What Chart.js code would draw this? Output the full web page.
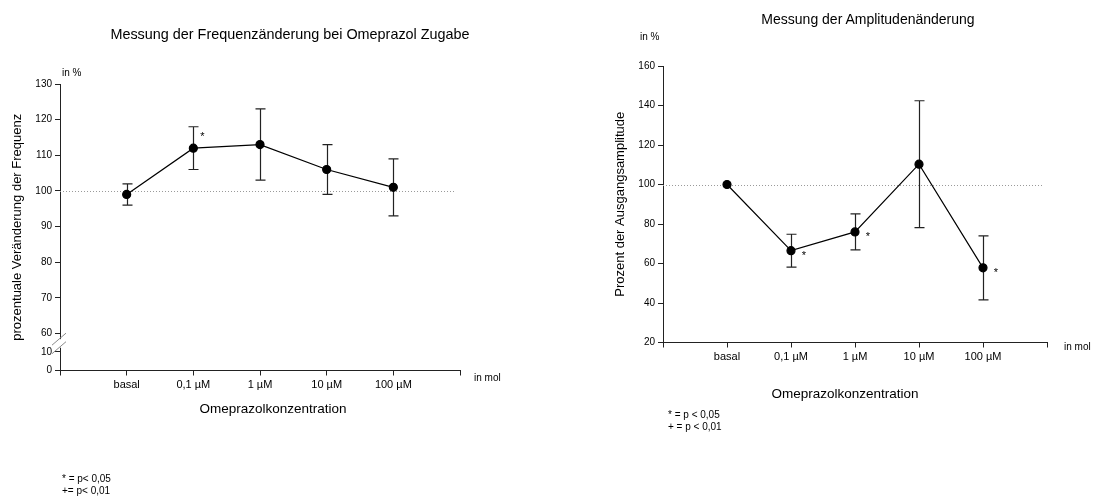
<!DOCTYPE html>
<html>
<head>
<meta charset="utf-8">
<script src="https://cdn.jsdelivr.net/npm/chart.js@4.4.1/dist/chart.umd.min.js"></script>
<style>
html,body{margin:0;padding:0;background:#fff;}
body{width:1093px;height:499px;position:relative;overflow:hidden;font-family:"Liberation Sans",Arial,sans-serif;color:#000;}
.cv{position:absolute;top:0;height:499px;}
#freqWrap{left:0;width:546px;}
#amplWrap{left:546px;width:547px;}
.t{position:absolute;white-space:nowrap;line-height:1;}
.mid{transform:translate(-50%,-50%);}
.title{font-size:14px;}
.xt{font-size:13.5px;}
.small{font-size:10px;}
.note{font-size:10px;line-height:12px;}
</style>
</head>
<body>
<div class="cv" id="freqWrap"><canvas id="freqChart"></canvas></div>
<div class="cv" id="amplWrap"><canvas id="amplChart"></canvas></div>

<div class="t mid title" style="left:290px;top:34px;font-size:14.4px">Messung der Frequenzänderung bei Omeprazol Zugabe</div>
<div class="t small" style="left:62px;top:68px">in %</div>
<div class="t small" style="left:474px;top:373px">in mol</div>
<div class="t mid xt" style="left:273px;top:409px">Omeprazolkonzentration</div>
<div class="t note" style="left:62px;top:473px">* = p&lt; 0,05<br>+= p&lt; 0,01</div>

<div class="t mid title" style="left:868px;top:19px">Messung der Amplitudenänderung</div>
<div class="t small" style="left:640px;top:32px">in %</div>
<div class="t small" style="left:1064px;top:342px">in mol</div>
<div class="t mid xt" style="left:845px;top:394px">Omeprazolkonzentration</div>
<div class="t note" style="left:668px;top:409px">* = p &lt; 0,05<br>+ = p &lt; 0,01</div>

<script>
// categories (x axis)
const categories=['basal','0,1 µM','1 µM','10 µM','100 µM'];

// Frequenz (left chart), % of baseline, mean and error
const freqMean=[99,112,113,106,101];
const freqErr=[3,6,10,7,8];
const freqSig=['','*','','',''];
const freqTicks=[0,10,60,70,80,90,100,110,120,130];

// Amplitude (right chart)
const amplMean=[100,66.5,76,110.3,57.8];
const amplErr=[0,8.3,9.1,32.1,16.2];
const amplSig=['','*','*','','*'];
const amplTicks=[20,40,60,80,100,120,140,160];

const refLine=100;

// broken y axis on the left chart: 0..10 squeezed below 60
const mapFreq=v=>v>=60?v:49.6+v*0.52;
const mapId=v=>v;

const INK='#222';
Chart.defaults.font.family='"Liberation Sans", Arial, sans-serif';
Chart.defaults.color='#000';

function makePlugins(mean,err,sig,map,starDx,starDy){
  return [{
    id:'refAndErr',
    beforeDatasetsDraw(chart){
      const {ctx,chartArea:a,scales:{x,y}}=chart;
      ctx.save();
      // dotted 100% line
      const ry=Math.round(y.getPixelForValue(map(refLine)))+0.5;
      ctx.strokeStyle='#9a9a9a';ctx.lineWidth=1;ctx.setLineDash([1,2]);
      ctx.beginPath();ctx.moveTo(a.left,ry);ctx.lineTo(a.right-5,ry);ctx.stroke();
      ctx.setLineDash([]);
      // error bars
      ctx.strokeStyle=INK;ctx.lineWidth=1.2;
      mean.forEach((m,i)=>{
        const e=err[i];if(!e)return;
        const px=Math.round(x.getPixelForValue(i+1))+0.5;
        const t=y.getPixelForValue(map(m+e)),b=y.getPixelForValue(map(m-e));
        ctx.beginPath();
        ctx.moveTo(px,t);ctx.lineTo(px,b);
        ctx.moveTo(px-5,t);ctx.lineTo(px+5,t);
        ctx.moveTo(px-5,b);ctx.lineTo(px+5,b);
        ctx.stroke();
      });
      ctx.restore();
    },
    afterDatasetsDraw(chart){
      const {ctx,scales:{x,y}}=chart;
      ctx.save();
      ctx.fillStyle='#000';ctx.font='11px "Liberation Sans", Arial, sans-serif';
      ctx.textAlign='center';ctx.textBaseline='middle';
      sig.forEach((s,i)=>{
        if(!s)return;
        ctx.fillText(s,x.getPixelForValue(i+1)+starDx,y.getPixelForValue(map(mean[i]))+starDy);
      });
      ctx.restore();
    }
  }];
}

const axisBreak={
  id:'axisBreak',
  afterDraw(chart){
    const {ctx,chartArea:a,scales:{y}}=chart;
    const y1=y.getPixelForValue(58.4),y2=y.getPixelForValue(56.0);
    const ax=a.left;
    ctx.save();
    ctx.fillStyle='#fff';
    ctx.fillRect(ax-2,y1,4,y2-y1);
    ctx.strokeStyle='#8a8a8a';ctx.lineWidth=1;
    [y1,y2].forEach(py=>{
      ctx.beginPath();ctx.moveTo(ax-8,py+6);ctx.lineTo(ax+6,py-6);ctx.stroke();
    });
    ctx.restore();
  }
};

function buildChart(id,cfg){
  const pts=cfg.mean.map((m,i)=>({x:i+1,y:cfg.map(m)}));
  return new Chart(document.getElementById(id),{
    type:'scatter',
    data:{datasets:[{data:pts,showLine:true,borderColor:'#000',borderWidth:1.2,
      pointRadius:4,pointHoverRadius:4,pointBackgroundColor:'#000',pointBorderColor:'#000'}]},
    options:{
      responsive:true,maintainAspectRatio:false,animation:false,
      layout:{padding:cfg.pad},
      plugins:{legend:{display:false},tooltip:{enabled:false}},
      scales:{
        x:{type:'linear',min:0,max:6,
          afterBuildTicks:s=>{s.ticks=[0,1,2,3,4,5,6].map(v=>({value:v}));},
          afterFit:s=>{s.height=30;},
          ticks:{autoSkip:false,maxRotation:0,padding:3,color:'#000',font:{size:11},
            callback:v=>categories[v-1]||''},
          grid:{drawOnChartArea:false,drawTicks:true,tickLength:5,color:INK},
          border:{color:INK,width:1}},
        y:{type:'linear',min:cfg.map(cfg.ticks[0]),max:cfg.ticks[cfg.ticks.length-1],
          afterBuildTicks:s=>{s.ticks=cfg.ticks.map(v=>({value:cfg.map(v)}));},
          afterFit:s=>{s.width=cfg.yWidth;},
          ticks:{autoSkip:false,padding:3,color:'#000',font:{size:10},
            callback:(v,i)=>String(cfg.ticks[i])},
          grid:{drawOnChartArea:false,drawTicks:true,tickLength:5,color:INK},
          border:{color:INK,width:1},
          title:{display:true,text:cfg.yTitle,color:'#000',font:{size:13},padding:{top:cfg.titlePad,bottom:0}}}
      }
    },
    plugins:makePlugins(cfg.mean,cfg.err,cfg.sig,cfg.map,cfg.starDx,cfg.starDy).concat(cfg.extra||[])
  });
}

buildChart('freqChart',{
  mean:freqMean,err:freqErr,sig:freqSig,map:mapFreq,ticks:freqTicks,
  pad:{left:0,right:86,top:84,bottom:98.5},yWidth:60,titlePad:10,
  yTitle:'prozentuale Veränderung der Frequenz',starDx:9,starDy:-11,extra:[axisBreak]
});

buildChart('amplChart',{
  mean:amplMean,err:amplErr,sig:amplSig,map:mapId,ticks:amplTicks,
  pad:{left:60,right:46,top:66,bottom:126.5},yWidth:57,titlePad:7,
  yTitle:'Prozent der Ausgangsamplitude',starDx:13,starDy:5
});
</script>
</body>
</html>
